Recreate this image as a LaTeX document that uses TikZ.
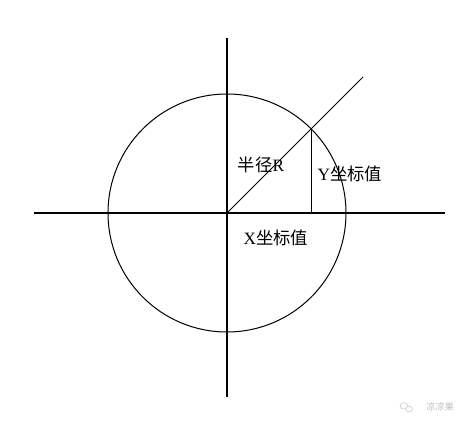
\documentclass[tikz,border=0pt]{standalone}
\usepackage{fontspec}
\setmainfont{Liberation Serif}
\newfontfamily\cjk{Noto Sans CJK SC}
\usetikzlibrary{calc}
\tikzstyle{axis}=[line width=0.8pt]
\tikzstyle{thin line}=[line width=0.75pt]
\tikzstyle{lbl}=[font=\fontsize{13}{15}\selectfont, inner sep=0pt]
\tikzstyle{watermark}=[font=\fontsize{7}{8}\selectfont, text=black!25, inner sep=0pt]
\newcommand{\cjkword}[1]{{\cjk #1}}

\begin{document}
\begin{tikzpicture}[x=0.75pt,y=-0.75pt]
	\useasboundingbox (0,0) rectangle (471,429);
	% axes
	\coordinate (O) at (227,213);
	\coordinate (xl) at (34,213);
	\coordinate (xr) at (445,213);
	\coordinate (yt) at (227,38);
	\coordinate (yb) at (227,397);
	\draw[axis] (xl) -- (xr);
	\draw[axis] (yt) -- (yb);
	\draw[thin line] (O) circle (119);
	% radius and projection
	\coordinate (P) at ($(O)+(84.1,-84.1)$);
	\coordinate (Q) at (363,77);
	\coordinate (Px) at (O -| P);
	\draw[thin line] (O) -- (Q);
	\draw[axis] (P) -- (Px);
	\node[lbl] (r) at (261,165) {\cjkword{半径}R};
	\node[lbl] (ylab) at (350,174) {Y\cjkword{坐标值}};
	\node[lbl] (xlab) at (276,238) {X\cjkword{坐标值}};
	% watermark
	\draw[black!20, line width=0.5pt] (404,406) ellipse (4 and 3.2);
	\draw[black!20, line width=0.5pt, fill=white] (409,409) ellipse (3.4 and 2.8);
	\node[watermark] (wm) at (440,407) {\cjkword{凉凉果}};
\end{tikzpicture}
\end{document}
